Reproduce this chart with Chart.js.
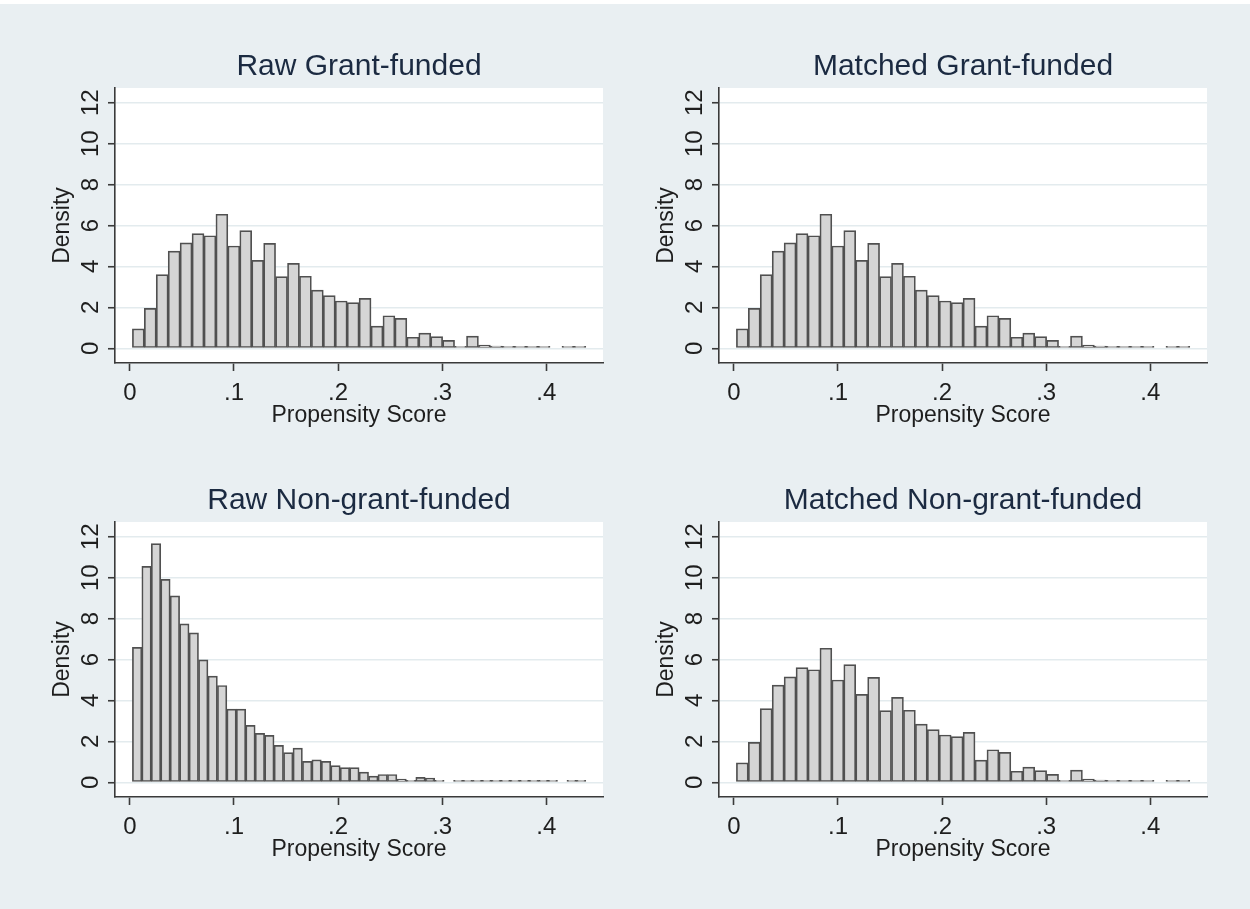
<!DOCTYPE html>
<html>
<head>
<meta charset="utf-8">
<script src="https://cdn.jsdelivr.net/npm/chart.js@4/dist/chart.umd.min.js"></script>
<style>
  html, body { margin: 0; padding: 0; }
  body { width: 1250px; height: 909px; background: #e9eff2; position: relative; overflow: hidden; }
  #strip { position: absolute; left: 0; top: 0; width: 1250px; height: 4px; background: #ffffff; }
  canvas { position: absolute; left: 0; top: 0; }
</style>
</head>
<body>
<div id="strip"></div>
<canvas id="c1" width="1250" height="909"></canvas>
<canvas id="c2" width="1250" height="909"></canvas>
<canvas id="c3" width="1250" height="909"></canvas>
<canvas id="c4" width="1250" height="909"></canvas>
<script>
// ---- data (densities per histogram bin) ----
const rawGrant = [0.95, 1.95, 3.6, 4.75, 5.15, 5.6, 5.5, 6.55, 5.0, 5.75,
                  4.3, 5.13, 3.5, 4.15, 3.52, 2.84, 2.57, 2.31, 2.23, 2.44,
                  1.08, 1.59, 1.46, 0.54, 0.74, 0.57, 0.39, 0.07, 0.59, 0.15,
                  0.11, 0.02, 0.03, 0.01, 0.03, 0, 0.03, 0.03];
const matchedGrant = [0.95, 1.95, 3.6, 4.75, 5.15, 5.6, 5.5, 6.55, 5.0, 5.75,
                      4.3, 5.13, 3.5, 4.15, 3.52, 2.84, 2.57, 2.31, 2.23, 2.44,
                      1.08, 1.59, 1.46, 0.54, 0.74, 0.57, 0.39, 0.07, 0.59, 0.15,
                      0.11, 0.02, 0.03, 0.01, 0.03, 0, 0.03, 0.03];
const rawNonGrant = [6.59, 10.55, 11.66, 9.92, 9.11, 7.74, 7.30, 5.98, 5.19, 4.73,
                     3.58, 3.58, 2.78, 2.39, 2.29, 1.80, 1.45, 1.67, 1.02, 1.10,
                     1.02, 0.81, 0.72, 0.72, 0.50, 0.30, 0.38, 0.38, 0.15, 0.08,
                     0.24, 0.20, 0.02, 0, 0.03, 0.01, 0.02, 0.03, 0.03, 0.03,
                     0.03, 0.03, 0.03, 0.03, 0.03, 0, 0.03, 0.03];
const matchedNonGrant = [0.95, 1.95, 3.6, 4.75, 5.15, 5.6, 5.5, 6.55, 5.0, 5.75,
                         4.3, 5.13, 3.5, 4.15, 3.52, 2.84, 2.57, 2.31, 2.23, 2.44,
                         1.08, 1.59, 1.46, 0.54, 0.74, 0.57, 0.39, 0.07, 0.59, 0.15,
                         0.11, 0.02, 0.03, 0.01, 0.03, 0, 0.03, 0.03];
const panelTitles = ['Raw Grant-funded', 'Matched Grant-funded', 'Raw Non-grant-funded', 'Matched Non-grant-funded'];
const binStart = 0.0024;   // lowest propensity score
const binEnd = 0.4380;     // highest propensity score
const xTicks = [0, 0.1, 0.2, 0.3, 0.4];
const xTickLabels = ['0', '.1', '.2', '.3', '.4'];
const yTicks = [0, 2, 4, 6, 8, 10, 12];
const yTickLabels = ['0', '2', '4', '6', '8', '10', '12'];
const xAxisTitle = 'Propensity Score';
const yAxisTitle = 'Density';

// ---- chart setup ----
Chart.defaults.font.family = "'Liberation Sans', Arial, sans-serif";
const xMin = -0.0143, xMax = 0.4545, yMin = -0.72, yMax = 12.72;

const plotBg = {
  id: 'plotBg',
  beforeDraw(chart) {
    const {ctx, chartArea: a} = chart;
    ctx.save();
    ctx.fillStyle = '#ffffff';
    ctx.fillRect(a.left, a.top, a.right - a.left, a.bottom - a.top);
    ctx.restore();
  }
};

function makeChart(id, title, values, dx, dy) {
  const w = (binEnd - binStart) / values.length;
  const pts = values.map((v, i) => ({ x: binStart + (i + 0.5) * w, y: v === 0 ? null : v }));
  return new Chart(document.getElementById(id), {
    type: 'bar',
    data: {
      datasets: [{
        data: pts,
        backgroundColor: '#d5d5d5',
        borderColor: '#505050',
        borderWidth: 1.7,
        borderSkipped: false,
        barPercentage: 1,
        categoryPercentage: 1,
        minBarLength: 2
      }]
    },
    options: {
      responsive: false,
      animation: false,
      devicePixelRatio: 1,
      events: [],
      layout: { padding: { left: 49 + dx, right: 647 - dx, top: 49 + dy, bottom: 480 - dy } },
      plugins: {
        legend: { display: false },
        tooltip: { enabled: false },
        title: {
          display: true, text: title, fullSize: false,
          color: '#1b2a41', font: { size: 30, weight: 'normal' },
          padding: { top: 0, bottom: 3 }
        }
      },
      scales: {
        x: {
          type: 'linear', min: xMin, max: xMax, offset: false,
          afterBuildTicks: s => { s.ticks = xTicks.map(v => ({ value: v })); },
          afterFit: s => { s.height = 66; },
          ticks: {
            autoSkip: false, minRotation: 0, maxRotation: 0, padding: 8,
            color: '#1e1e1e', font: { size: 24 },
            callback: (v, i) => xTickLabels[i]
          },
          grid: { drawOnChartArea: false, offset: false, drawTicks: true, tickLength: 8, tickColor: '#3a3a3a', tickWidth: 1.6 },
          border: { display: true, color: '#3a3a3a', width: 1.6 },
          title: { display: true, text: xAxisTitle, color: '#1e1e1e', font: { size: 23 }, padding: { top: 0, bottom: 0 } }
        },
        y: {
          type: 'linear', min: yMin, max: yMax,
          afterBuildTicks: s => { s.ticks = yTicks.map(v => ({ value: v })); },
          afterFit: s => { s.width = 66; },
          ticks: {
            autoSkip: false, minRotation: 90, maxRotation: 90, crossAlign: 'center', padding: 3,
            color: '#1e1e1e', font: { size: 24 },
            callback: (v, i) => yTickLabels[i]
          },
          grid: { color: '#e3ebee', lineWidth: 1.5, drawTicks: true, tickLength: 7, tickColor: '#3a3a3a', tickWidth: 1.6 },
          border: { display: true, color: '#3a3a3a', width: 1.6 },
          title: { display: true, text: yAxisTitle, color: '#1e1e1e', font: { size: 23 }, padding: { top: 0, bottom: 0 } }
        }
      }
    },
    plugins: [plotBg]
  });
}

makeChart('c1', panelTitles[0], rawGrant, 0, 0);
makeChart('c2', panelTitles[1], matchedGrant, 604, 0);
makeChart('c3', panelTitles[2], rawNonGrant, 0, 434);
makeChart('c4', panelTitles[3], matchedNonGrant, 604, 434);
</script>
</body>
</html>
